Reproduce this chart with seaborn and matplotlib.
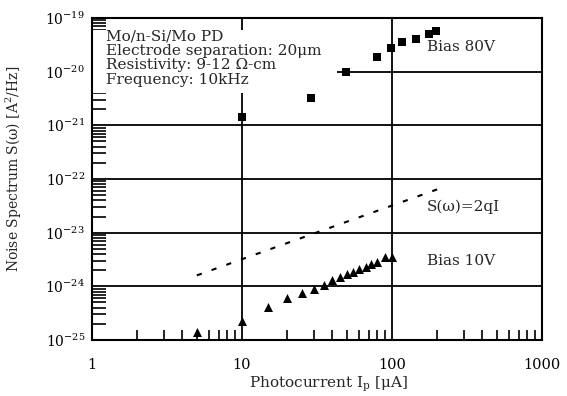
import numpy as np
import pandas as pd
import matplotlib
matplotlib.use("Agg")
import matplotlib.pyplot as plt
from matplotlib.patches import Rectangle
from matplotlib.ticker import FixedLocator, LogFormatterMathtext, NullFormatter, FuncFormatter
import seaborn as sns

# Bias 80 V: photocurrent [uA] and noise spectrum [A^2/Hz]
i_80v = [10, 29, 49, 79, 98, 117, 144, 177, 195]
s_80v = [1.4e-21, 3.3e-21, 1.0e-20, 1.9e-20, 2.8e-20, 3.5e-20, 4.1e-20, 5.0e-20, 5.8e-20]

# Bias 10 V
i_10v = [5, 10, 15, 20, 25, 30, 35, 40, 45, 50, 55, 60, 67, 73, 80, 90, 100]
s_10v = [1.43e-25, 2.3e-25, 4.1e-25, 6.0e-25, 7.4e-25, 8.9e-25, 1.05e-24, 1.3e-24,
         1.48e-24, 1.67e-24, 1.87e-24, 2.07e-24, 2.3e-24, 2.57e-24, 2.8e-24,
         3.47e-24, 3.5e-24]

# Shot-noise reference S(w) = 2qI, end points
i_shot = [5, 200]
s_shot = [1.6e-24, 6.4e-23]

x_decades = [1, 10, 100, 1000]
y_exponents = [-25, -24, -23, -22, -21, -20, -19]

info_lines = ["Mo/n-Si/Mo PD",
              "Electrode separation: 20\u03bcm",
              "Resistivity: 9-12 \u03a9-cm",
              "Frequency: 10kHz"]

sns.set_theme(style="ticks")
plt.rcParams["font.family"] = ["DejaVu Serif"]
plt.rcParams["mathtext.fontset"] = "dejavuserif"

df80 = pd.DataFrame({"I": i_80v, "S": s_80v})
df10 = pd.DataFrame({"I": i_10v, "S": s_10v})
dfshot = pd.DataFrame({"I": i_shot, "S": s_shot})

fig = plt.figure(figsize=(5.67, 3.96), dpi=100)
ax = fig.add_axes([92 / 567, 1 - 340 / 396, 450 / 567, 322 / 396])
ax.set_xscale("log")
ax.set_yscale("log")
ax.set_xlim(x_decades[0], x_decades[-1])
ax.set_ylim(10.0 ** y_exponents[0], 10.0 ** y_exponents[-1])

# decade grid
for xv in x_decades[1:-1]:
    ax.axvline(xv, color="black", lw=1.3, zorder=1)
for e in y_exponents[1:-1]:
    ax.axhline(10.0 ** e, color="black", lw=1.3, zorder=1)

# white panel behind the description
ax.add_patch(Rectangle((0.0, (340 - 93) / 322), (337 - 92) / 450, 63 / 322,
                       transform=ax.transAxes, facecolor="white", edgecolor="none",
                       zorder=2))
ax.text(0.031, 0.965, "\n".join(info_lines), transform=ax.transAxes, va="top",
        ha="left", fontsize=11, linespacing=1.05, zorder=3)

sns.lineplot(data=dfshot, x="I", y="S", ax=ax, color="black", lw=1.5,
             linestyle=(0, (2.5, 5)), zorder=4)
sns.scatterplot(data=df80, x="I", y="S", ax=ax, marker="s", s=36, color="black",
                edgecolor="black", linewidth=0, zorder=5)
sns.scatterplot(data=df10, x="I", y="S", ax=ax, marker="^", s=42, color="black",
                edgecolor="black", linewidth=0, zorder=5)

ax.text(171, 2.9e-20, "Bias 80V", fontsize=11, va="center", ha="left")
ax.text(171, 3.0e-23, "S(\u03c9)=2qI", fontsize=11, va="center", ha="left")
ax.text(171, 3.0e-24, "Bias 10V", fontsize=11, va="center", ha="left")

for sp in ax.spines.values():
    sp.set_visible(True)
    sp.set_linewidth(1.5)
    sp.set_color("black")
    sp.set_zorder(6)

# major ticks at decades, minor ticks at 2..9 within each decade
x_minor = [m * d for d in x_decades[:-1] for m in range(2, 10)]
y_minor = [m * 10.0 ** e for e in y_exponents[:-1] for m in range(2, 10)]
ax.xaxis.set_major_locator(FixedLocator(x_decades))
ax.yaxis.set_major_locator(FixedLocator([10.0 ** e for e in y_exponents]))
ax.xaxis.set_minor_locator(FixedLocator(x_minor))
ax.yaxis.set_minor_locator(FixedLocator(y_minor))
ax.yaxis.set_major_formatter(LogFormatterMathtext())
ax.xaxis.set_major_formatter(FuncFormatter(lambda v, p: f"{v:g}"))
ax.xaxis.set_minor_formatter(NullFormatter())
ax.yaxis.set_minor_formatter(NullFormatter())
ax.tick_params(axis="x", which="major", direction="in", length=0, labelsize=10.5,
               colors="black", pad=13)
ax.tick_params(axis="y", which="major", direction="in", length=0, labelsize=10,
               colors="black", pad=5)
ax.tick_params(axis="x", which="minor", direction="in", length=7, width=1.2,
               color="black")
ax.tick_params(axis="y", which="minor", direction="in", length=10, width=1.2,
               color="black")

ax.set_xlabel("Photocurrent I$_\\mathrm{p}$ [\u03bcA]", fontsize=11)
ax.xaxis.set_label_coords((329 - 92) / 450, -(375 - 340) / 322)
ax.set_ylabel("Noise Spectrum S(\u03c9) [A$^2$/Hz]", fontsize=10)
ax.yaxis.set_label_coords(-(92 - 24) / 450, (340 - 169) / 322)

fig.savefig("out.png", dpi=100)
